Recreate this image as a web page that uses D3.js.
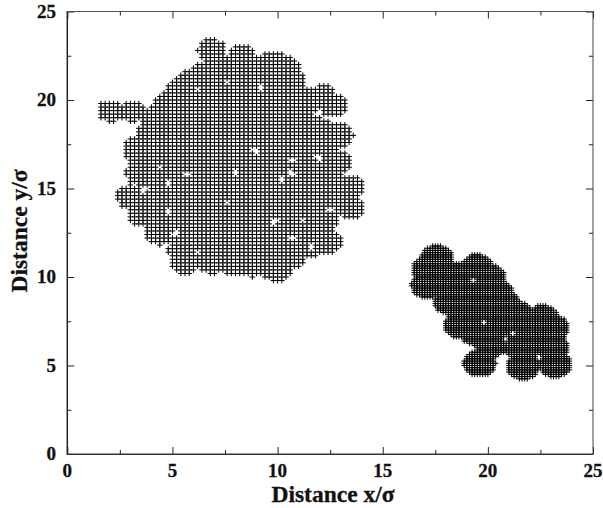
<!DOCTYPE html>
<html><head><meta charset="utf-8">
<script src="https://d3js.org/d3.v7.min.js"></script>
<style>html,body{margin:0;padding:0;background:#fff}svg{display:block}</style>
</head><body><svg id="c" width="603" height="508"></svg>
<script>
const majorTicks=[0,5,10,15,20,25];
const minorTicks=[2.5,7.5,12.5,17.5,22.5];
const xTitle="Distance x/\u03c3", yTitle="Distance y/\u03c3";
// Cluster outlines (centres of the boundary particles)
const largeOutline=[[4.41,19.15],[4.88,19.89],[5.36,20.45],[5.83,21.02],[6.41,21.41],[6.88,22.77],[8.31,22.43],[9.73,22.09],[10.40,21.81],[10.69,21.02],[11.07,20.00],[12.11,20.17],[12.63,19.72],[11.92,18.59],[12.92,17.97],[12.82,16.44],[13.44,15.03],[13.44,13.95],[12.16,13.22],[12.35,11.98],[11.54,11.81],[10.59,11.07],[9.97,10.40],[8.78,10.68],[7.88,10.73],[6.88,10.85],[5.60,10.85],[5.45,11.53],[4.36,12.49],[3.55,13.50],[3.03,14.52],[3.46,15.88],[3.31,17.18],[3.93,18.02],[4.17,18.76]];
const largeExtra=[[2.03,19.38],[3.08,19.38]];
const largeVoids=[[6.17,20.62],[7.64,21.02],[9.16,20.68],[11.92,19.27],[12.3,19.0],[12.6,18.76],[4.41,16.21],[3.69,14.92],[4.79,15.31],[4.79,13.67],[5.12,12.49],[6.21,11.36],[7.64,14.18],[8.02,15.88],[5.74,15.76],[10.68,16.61],[11.92,16.72],[10.21,15.48],[10.68,15.88],[9.88,13.11],[11.21,13.16],[10.68,12.2],[11.54,11.7],[12.49,13.79],[8.93,17.12]];
const smallOutline=[[17.58,11.07],[19.48,10.56],[20.10,9.94],[20.43,9.15],[20.81,8.42],[21.53,7.80],[22.62,7.68],[23.10,7.12],[23.10,5.99],[21.67,5.88],[20.81,6.44],[20.10,6.16],[19.39,6.89],[18.67,7.29],[18.20,8.59],[17.10,9.55],[17.15,10.40]];
const smallExtra=[[23.2,5.08],[21.67,4.97],[19.62,5.14]];
const smallVoids=[[19.29,9.83],[19.77,7.46],[21.19,6.84],[20.86,6.50],[22.43,5.42]];

const svg=d3.select("#c");
const x=d3.scaleLinear().domain([0,25]).range([67.3,593]);
const y=d3.scaleLinear().domain([0,25]).range([454,11.5]);

function sample(outline,extra,voids,step,rad,extraRad,voidRad){
  const pts=[];
  const xs=d3.range(0,25+step/2,step), ys=d3.range(0,25+step/2,step);
  const near=(p,list,r)=>list.some(q=>(p[0]-q[0])**2+(p[1]-q[1])**2<=r*r);
  for(const a of xs)for(const b of ys){
    const p=[a,b];
    if((d3.polygonContains(outline,p)||near(p,outline,rad)||near(p,extra,extraRad))&&!near(p,voids,voidRad))pts.push(p);
  }
  return pts;
}
const plus=d3.line()([[-2.8,0],[2.8,0]])+d3.line()([[0,-2.8],[0,2.8]]);
function draw(data,cls,w){
  svg.append("g").attr("class",cls).selectAll("path").data(data).join("path")
    .attr("d",plus).attr("transform",d=>`translate(${x(d[0])},${y(d[1])})`)
    .attr("fill","none").attr("stroke","#000").attr("stroke-width",w);
}
draw(sample(largeOutline,largeExtra,largeVoids,0.2,0.7,0.62,0.16),"large",1);
draw(sample(smallOutline,smallExtra,smallVoids,0.125,0.74,0.76,0.14),"small",1);

// axes
function ax(gen,tr,vals,len){
  const g=svg.append("g").attr("transform",tr).call(gen.tickValues(vals).tickSize(len).tickFormat(""));
  g.selectAll(".domain").remove();
  g.selectAll("line").attr("stroke","#222").attr("stroke-width",1);
  return g;
}
ax(d3.axisBottom(x),`translate(0,454)`,majorTicks,-7);
ax(d3.axisBottom(x),`translate(0,454)`,minorTicks,-4);
ax(d3.axisTop(x),`translate(0,11.5)`,majorTicks,-7);
ax(d3.axisTop(x),`translate(0,11.5)`,minorTicks,-4);
ax(d3.axisLeft(y),`translate(67.3,0)`,majorTicks,-7);
ax(d3.axisLeft(y),`translate(67.3,0)`,minorTicks,-4);
ax(d3.axisRight(y),`translate(593,0)`,majorTicks,-7);
ax(d3.axisRight(y),`translate(593,0)`,minorTicks,-4);
const frame=(x1,y1,x2,y2,w,c)=>svg.append("line").attr("x1",x1).attr("y1",y1).attr("x2",x2).attr("y2",y2).attr("stroke",c).attr("stroke-width",w);
frame(67.3,11,67.3,455,1.5,"#222");
frame(67,454.3,593.5,454.3,1.5,"#333");
frame(67,11.5,593.5,11.5,1,"#555");
frame(593,11,593,455,1,"#444");

const font="'Liberation Serif','Times New Roman',serif";
const label=(sel)=>sel.attr("font-family",font).attr("font-weight","bold").attr("fill","#111").attr("stroke","#111").attr("stroke-width",0.3);
svg.append("g").selectAll("text").data(majorTicks).join("text").call(label)
  .attr("x",d=>x(d)).attr("y",477).attr("text-anchor","middle").attr("font-size",19).text(d=>d);
svg.append("g").selectAll("text").data(majorTicks).join("text").call(label)
  .attr("x",56).attr("y",d=>y(d)+6).attr("text-anchor","end").attr("font-size",19).text(d=>d);
svg.append("text").call(label).attr("x",333).attr("y",502).attr("text-anchor","middle").attr("font-size",23.5).text(xTitle);
svg.append("text").call(label).attr("transform","translate(27,231) rotate(-90)").attr("text-anchor","middle").attr("font-size",23.5).text(yTitle);
</script></body></html>
